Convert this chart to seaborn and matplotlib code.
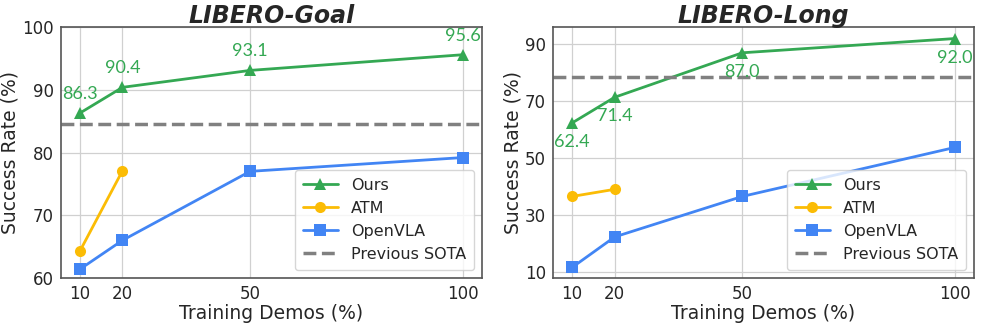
import matplotlib
matplotlib.use("Agg")
import matplotlib.pyplot as plt
import pandas as pd
import seaborn as sns

demos = [10, 20, 50, 100]
atm_demos = [10, 20]

goal_ours = [86.3, 90.4, 93.1, 95.6]
goal_atm = [64.3, 77.1]
goal_openvla = [61.4, 66.0, 77.0, 79.2]
goal_sota = 84.6

long_ours = [62.4, 71.4, 87.0, 92.0]
long_atm = [36.6, 39.1]
long_openvla = [11.7, 22.4, 36.6, 53.8]
long_sota = 78.6

green = "#34a853"
orange = "#fbbc05"
blue = "#4285f4"

sns.set_style("white")
plt.rcParams["font.family"] = ["DejaVu Sans"]

fig, axes = plt.subplots(1, 2, figsize=(9.97, 3.27), dpi=100)
fig.subplots_adjust(left=0.061, right=0.977, top=0.917, bottom=0.15, wspace=0.169)


def panel(ax, title, ours, atm, openvla, sota, ylim, yticks, above):
    df_ours = pd.DataFrame({"x": demos, "y": ours})
    df_atm = pd.DataFrame({"x": atm_demos, "y": atm})
    df_vla = pd.DataFrame({"x": demos, "y": openvla})
    sns.lineplot(data=df_ours, x="x", y="y", ax=ax, color=green, marker="^",
                 markersize=8, markeredgewidth=0, linewidth=2, label="Ours")
    sns.lineplot(data=df_atm, x="x", y="y", ax=ax, color=orange, marker="o",
                 markersize=8, markeredgewidth=0, linewidth=2, label="ATM")
    sns.lineplot(data=df_vla, x="x", y="y", ax=ax, color=blue, marker="s",
                 markersize=8, markeredgewidth=0, linewidth=2, label="OpenVLA")
    ax.axhline(sota, color="gray", linestyle="--", linewidth=2.5, label="Previous SOTA")

    for x, y in zip(demos, ours):
        off = 8 if above else -8
        ax.annotate(f"{y:.1f}", (x, y), xytext=(0, off), textcoords="offset points",
                    ha="center", va="bottom" if above else "top",
                    color=green, fontsize=13, family="Lato")

    ax.set_xlim(5.5, 104.5)
    ax.set_ylim(*ylim)
    ax.set_xticks(demos)
    ax.set_yticks(yticks)
    ax.tick_params(labelsize=12, length=3, pad=2)
    ax.grid(True, color="#d0d0d0", linewidth=0.9)
    for s in ax.spines.values():
        s.set_color("#555555")
        s.set_linewidth(1.2)
    ax.set_xlabel("Training Demos (%)", fontsize=13.5, labelpad=1)
    ax.set_ylabel("Success Rate (%)", fontsize=13.5, labelpad=2)
    ax.set_title(title, fontsize=17, fontweight="bold", style="italic", pad=3)
    ax.legend(loc="lower right", fontsize=11.5, framealpha=0.8,
              handlelength=2.2, borderpad=0.5, labelspacing=0.5)


panel(axes[0], "LIBERO-Goal", goal_ours, goal_atm, goal_openvla, goal_sota,
      (60, 100), [60, 70, 80, 90, 100], True)
panel(axes[1], "LIBERO-Long", long_ours, long_atm, long_openvla, long_sota,
      (8, 96), [10, 30, 50, 70, 90], False)

fig.savefig("out.png", dpi=100)
